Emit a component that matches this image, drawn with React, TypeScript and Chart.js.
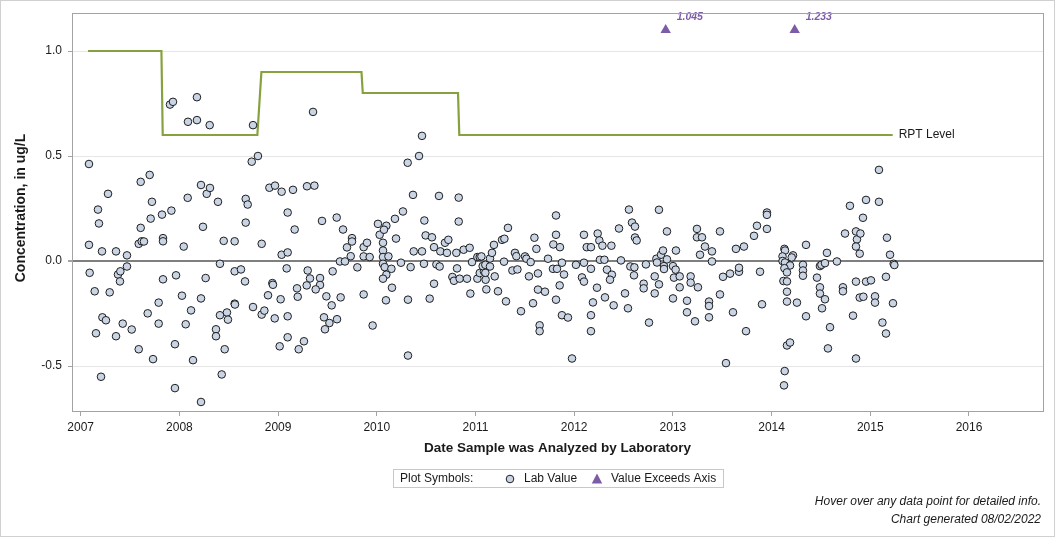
import React, { useEffect, useRef } from "react";
import { Chart, registerables } from "chart.js";

Chart.register(...registerables);

const xTickYears = [2007, 2008, 2009, 2010, 2011, 2012, 2013, 2014, 2015, 2016];
const yTickValues = [-0.5, 0, 0.5, 1.0];

const labDates = [
  2007.084, 2007.084, 2007.091, 2007.142, 2007.155, 2007.175, 2007.185, 2007.206, 2007.216, 2007.22,
  2007.256, 2007.277, 2007.294, 2007.358, 2007.358, 2007.378, 2007.402, 2007.398, 2007.426, 2007.469,
  2007.469, 2007.517, 2007.588, 2007.608, 2007.608, 2007.588, 2007.618, 2007.641, 2007.699, 2007.722,
  2007.709, 2007.679, 2007.733, 2007.79, 2007.79, 2007.824, 2007.834, 2007.834, 2007.834, 2007.905,
  2007.935, 2007.919, 2007.955, 2007.955, 2007.966, 2008.026, 2008.044, 2008.064, 2008.084, 2008.087,
  2008.118, 2008.138, 2008.178, 2008.178, 2008.219, 2008.239, 2008.277, 2008.31, 2008.219, 2008.266,
  2008.219, 2008.307, 2008.391, 2008.411, 2008.449, 2008.371, 2008.371, 2008.411, 2008.482, 2008.492,
  2008.459, 2008.429, 2008.56, 2008.56, 2008.624, 2008.665, 2008.56, 2008.563, 2008.672, 2008.692,
  2008.672, 2008.733, 2008.796, 2008.746, 2008.746, 2008.834, 2008.834, 2008.861, 2008.898, 2008.912,
  2008.969, 2009.036, 2009.151, 2009.097, 2009.168, 2009.036, 2009.097, 2009.087, 2008.942, 2008.948,
  2009.026, 2008.966, 2009.097, 2009.097, 2009.016, 2009.192, 2009.199, 2009.209, 2009.262, 2009.293,
  2009.368, 2009.354, 2009.445, 2009.3, 2009.323, 2009.425, 2009.425, 2009.29, 2009.381, 2009.489,
  2009.543, 2009.465, 2009.52, 2009.597, 2009.475, 2009.553, 2009.594, 2009.658, 2009.627, 2009.678,
  2009.698, 2009.736, 2009.749, 2009.749, 2009.634, 2009.803, 2009.867, 2009.901, 2009.867, 2009.928,
  2009.867, 2009.958, 2010.012, 2010.029, 2010.097, 2010.073, 2010.063, 2010.063, 2010.063, 2010.118,
  2010.063, 2010.08, 2010.148, 2010.097, 2010.063, 2010.154, 2010.093, 2010.195, 2010.184, 2010.265,
  2010.245, 2010.313, 2010.428, 2010.458, 2010.367, 2010.343, 2010.316, 2010.316, 2010.374, 2010.458,
  2010.482, 2010.478, 2010.495, 2010.559, 2010.58, 2010.644, 2010.711, 2010.604, 2010.637, 2010.58,
  2010.536, 2010.63, 2010.691, 2010.725, 2010.83, 2010.83, 2010.806, 2010.88, 2010.941, 2010.813,
  2010.766, 2010.782, 2010.84, 2010.914, 2010.948, 2010.965, 2011.019, 2011.043, 2011.06, 2011.019,
  2011.043, 2011.086, 2011.103, 2011.1, 2011.073, 2011.1, 2011.147, 2011.147, 2011.167, 2011.187,
  2011.269, 2011.293, 2011.329, 2011.195, 2011.11, 2011.228, 2011.309, 2011.289, 2011.4, 2011.414,
  2011.502, 2011.516, 2011.559, 2011.374, 2011.425, 2011.461, 2011.542, 2011.597, 2011.617, 2011.633,
  2011.633, 2011.704, 2011.583, 2011.65, 2011.65, 2011.735, 2011.785, 2011.826, 2011.876, 2011.897,
  2011.816, 2011.816, 2011.789, 2011.856, 2011.853, 2011.816, 2011.876, 2011.937, 2011.978, 2012.018,
  2012.099, 2012.127, 2012.17, 2012.099, 2012.079, 2012.099, 2012.17, 2012.231, 2012.19, 2012.17,
  2012.17, 2012.238, 2012.255, 2012.286, 2012.377, 2012.261, 2012.306, 2012.332, 2012.382, 2012.363,
  2012.312, 2012.4, 2012.454, 2012.474, 2012.515, 2012.545, 2012.555, 2012.586, 2012.616, 2012.616,
  2012.633, 2012.569, 2012.61, 2012.606, 2012.727, 2012.704, 2012.704, 2012.758, 2012.816, 2012.859,
  2012.816, 2012.859, 2012.94, 2012.833, 2012.839, 2012.88, 2012.9, 2012.91, 2012.91, 2012.94,
  2013.001, 2013.028, 2013.011, 2013.069, 2013.031, 2013.069, 2013.001, 2013.143, 2013.143, 2013.224,
  2013.18, 2013.18, 2013.254, 2013.244, 2013.244, 2013.295, 2013.325, 2013.396, 2013.275, 2013.396,
  2013.366, 2013.366, 2013.366, 2013.477, 2013.477, 2013.508, 2013.579, 2013.67, 2013.67, 2013.639,
  2013.72, 2013.609, 2013.741, 2013.538, 2013.822, 2013.852, 2013.883, 2013.903, 2013.953, 2013.953,
  2013.953, 2014.13, 2014.136, 2014.217, 2014.204, 2014.111, 2014.111, 2014.136, 2014.187, 2014.13,
  2014.156, 2014.12, 2014.156, 2014.156, 2014.156, 2014.257, 2014.156, 2014.187, 2014.133, 2014.126,
  2014.349, 2014.318, 2014.318, 2014.318, 2014.349, 2014.46, 2014.49, 2014.505, 2014.541, 2014.561,
  2014.662, 2014.49, 2014.49, 2014.541, 2014.511, 2014.592, 2014.571, 2014.723, 2014.723, 2014.744,
  2014.794, 2014.957, 2014.926, 2015.088, 2015.088, 2014.855, 2014.865, 2014.9, 2014.855, 2014.893,
  2014.855, 2014.957, 2015.007, 2014.893, 2014.93, 2015.048, 2015.048, 2014.825, 2014.855, 2015.169,
  2015.2, 2015.237, 2015.244, 2015.159, 2015.23, 2015.123, 2015.159,
];

const labValues = [
  0.462, 0.077, -0.056, -0.144, -0.344, 0.245, 0.179, -0.551, 0.046, -0.268,
  -0.282, 0.32, -0.149, 0.046, -0.358, -0.064, -0.049, -0.097, -0.298, 0.027,
  -0.026, -0.326, -0.42, 0.377, 0.158, 0.082, 0.094, 0.093, 0.41, 0.282,
  0.202, -0.249, -0.467, -0.198, -0.298, 0.221, 0.109, 0.094, -0.087, 0.745,
  0.758, 0.24, -0.396, -0.605, -0.068, -0.165, 0.069, -0.301, 0.301, 0.663,
  -0.235, -0.472, 0.671, 0.78, 0.362, 0.163, 0.32, 0.348, -0.178, -0.081,
  -0.671, 0.647, 0.282, -0.013, 0.096, -0.325, -0.358, -0.258, -0.245, -0.279,
  -0.42, -0.54, 0.094, -0.049, -0.04, -0.097, -0.203, -0.207, 0.296, 0.269,
  0.183, 0.473, 0.5, 0.647, -0.219, 0.082, -0.255, -0.236, -0.163, 0.349,
  0.359, 0.33, 0.339, 0.231, 0.15, 0.03, 0.041, -0.035, -0.105, -0.113,
  -0.182, -0.273, -0.263, -0.363, -0.406, -0.13, -0.17, -0.42, -0.382, 0.356,
  0.359, 0.71, 0.191, -0.045, -0.083, -0.081, -0.114, -0.116, -0.135, -0.168,
  -0.211, -0.268, -0.295, -0.277, -0.325, -0.049, 0.207, 0.15, -0.002, -0.002,
  0.065, 0.023, 0.109, 0.093, -0.173, -0.03, 0.066, 0.087, 0.022, 0.019,
  -0.159, -0.307, 0.177, 0.125, 0.168, 0.149, 0.087, 0.05, 0.019, 0.022,
  -0.013, -0.029, -0.037, -0.065, -0.084, -0.127, -0.187, 0.107, 0.201, 0.236,
  -0.008, 0.468, 0.5, 0.596, 0.315, -0.029, -0.184, -0.45, 0.046, 0.046,
  0.193, -0.013, 0.122, 0.113, 0.066, 0.046, 0.039, -0.016, -0.026, -0.108,
  -0.179, 0.31, 0.087, 0.101, 0.302, 0.188, 0.039, 0.054, 0.063, -0.035,
  -0.076, -0.094, -0.084, -0.084, -0.155, -0.005, 0.019, 0.019, 0.022, -0.084,
  -0.057, -0.049, -0.089, -0.056, -0.024, -0.018, -0.026, 0.012, 0.039, 0.077,
  0.101, 0.106, 0.158, -0.073, -0.135, -0.144, -0.192, -0.003, 0.039, 0.023,
  0.022, 0.011, -0.005, -0.045, -0.04, -0.239, -0.073, 0.111, 0.058, -0.059,
  -0.136, -0.146, -0.201, -0.306, -0.334, 0.011, -0.037, -0.037, -0.008, -0.064,
  0.217, 0.125, 0.079, 0.066, -0.116, -0.184, -0.258, -0.269, -0.464, -0.018,
  0.125, 0.066, 0.066, -0.008, -0.078, -0.098, -0.037, -0.127, -0.197, -0.258,
  -0.334, 0.131, 0.098, 0.073, 0.073, 0.006, 0.006, -0.041, -0.065, -0.089,
  -0.173, -0.211, 0.155, 0.003, -0.154, -0.225, 0.245, 0.183, 0.164, 0.112,
  0.098, -0.026, -0.03, -0.068, -0.016, -0.108, -0.13, -0.293, -0.073, -0.111,
  -0.154, 0.244, 0.141, 0.011, -0.007, 0.03, 0.05, -0.024, -0.038, 0.008,
  -0.024, -0.041, -0.079, -0.073, 0.05, -0.125, -0.178, -0.189, -0.244, -0.287,
  -0.073, -0.103, -0.125, 0.153, 0.113, 0.113, 0.069, 0.046, 0.03, -0.002,
  -0.193, -0.214, -0.268, 0.141, -0.159, -0.075, -0.06, -0.051, -0.032, 0.058,
  0.069, -0.244, -0.334, -0.486, 0.12, 0.168, -0.051, -0.206, 0.231, 0.22,
  0.153, 0.058, 0.05, 0.027, 0.017, 0.022, 0.0, -0.007, -0.021, -0.034,
  -0.054, -0.095, -0.097, -0.146, -0.193, -0.198, -0.402, -0.388, -0.524, -0.592,
  0.077, -0.018, -0.045, -0.07, -0.263, -0.079, -0.024, -0.018, -0.01, 0.039,
  -0.002, -0.125, -0.155, -0.182, -0.225, -0.315, -0.416, -0.125, -0.144, 0.131,
  0.263, 0.291, 0.206, 0.282, 0.434, 0.141, 0.103, 0.131, 0.069, 0.035,
  -0.098, -0.098, -0.092, -0.174, -0.17, -0.168, -0.198, -0.26, -0.464, 0.111,
  0.03, -0.013, -0.019, -0.075, -0.201, -0.293, -0.345,
];

const exceedDates = [2012.927, 2014.234];
const exceedValues = [1.045, 1.233];
const exceedAxisCap = 1.1;

const rptDates = [2007.074, 2007.818, 2007.831, 2008.79, 2008.831, 2009.845, 2009.858, 2010.823, 2010.836, 2015.227];
const rptValues = [1.0, 1.0, 0.6, 0.6, 0.9, 0.9, 0.8, 0.8, 0.6, 0.6];
const rptLabel = "RPT Level";

const xTitle = "Date Sample was Analyzed by Laboratory";
const yTitle = "Concentration, in ug/L";
const legendTitle = "Plot Symbols:";
const legendLab = "Lab Value";
const legendExceed = "Value Exceeds Axis";
const footnotes = ["Hover over any data point for detailed info.", "Chart generated 08/02/2022"];

const FONT = '"Liberation Sans", Arial, sans-serif';
const POINT_FILL = "#c9d4e5";
const POINT_EDGE = "#1e1e1e";
const PURPLE = "#7b5ca6";
const GREEN = "#86a23f";
const FRAME = "#a3a3a3";
const TEXT = "#1a1a1a";

function drawTriangle(ctx: CanvasRenderingContext2D, x: number, y: number, r: number) {
  ctx.beginPath();
  ctx.moveTo(x, y - r);
  ctx.lineTo(x + r * 0.95, y + r * 0.8);
  ctx.lineTo(x - r * 0.95, y + r * 0.8);
  ctx.closePath();
  ctx.fill();
}

const extrasPlugin = {
  id: "extras",
  beforeDraw(chart: any) {
    const ctx = chart.ctx;
    ctx.save();
    ctx.fillStyle = "#ffffff";
    ctx.fillRect(0, 0, chart.width, chart.height);
    ctx.restore();
  },
  afterDatasetsDraw(chart: any) {
    const ctx = chart.ctx;
    const xs = chart.scales.x;
    const ys = chart.scales.y;
    ctx.save();
    ctx.fillStyle = PURPLE;
    ctx.font = `italic bold 10.5px ${FONT}`;
    ctx.textAlign = "left";
    ctx.textBaseline = "middle";
    exceedDates.forEach((d, i) => {
      const px = xs.getPixelForValue(d);
      const py = ys.getPixelForValue(exceedAxisCap);
      ctx.fillText(exceedValues[i].toFixed(3), px + 11, py - 13);
    });
    ctx.fillStyle = TEXT;
    ctx.font = `12px ${FONT}`;
    const lx = xs.getPixelForValue(rptDates[rptDates.length - 1]);
    const ly = ys.getPixelForValue(rptValues[rptValues.length - 1]);
    ctx.fillText(rptLabel, lx + 6, ly);
    ctx.restore();
  },
  afterDraw(chart: any) {
    const ctx = chart.ctx;
    const a = chart.chartArea;
    ctx.save();
    ctx.strokeStyle = FRAME;
    ctx.lineWidth = 1;
    ctx.strokeRect(Math.round(a.left) + 0.5, Math.round(a.top) + 0.5, Math.round(a.right - a.left), Math.round(a.bottom - a.top));
    ctx.fillStyle = TEXT;
    ctx.textAlign = "center";
    ctx.textBaseline = "middle";
    ctx.font = `bold 13.5px ${FONT}`;
    ctx.fillText(xTitle, (a.left + a.right) / 2, 448);
    ctx.save();
    ctx.font = `bold 14px ${FONT}`;
    ctx.translate(21, 208);
    ctx.rotate(-Math.PI / 2);
    ctx.fillText(yTitle, 0, 0);
    ctx.restore();
    ctx.strokeStyle = "#c8c8c8";
    ctx.strokeRect(393.5, 469.5, 330, 18);
    ctx.font = `12px ${FONT}`;
    ctx.textAlign = "left";
    ctx.fillStyle = TEXT;
    ctx.fillText(legendTitle, 400, 479);
    ctx.beginPath();
    ctx.arc(510, 479, 3.8, 0, Math.PI * 2);
    ctx.fillStyle = POINT_FILL;
    ctx.fill();
    ctx.strokeStyle = POINT_EDGE;
    ctx.stroke();
    ctx.fillStyle = TEXT;
    ctx.fillText(legendLab, 524, 479);
    ctx.fillStyle = PURPLE;
    drawTriangle(ctx, 597, 479, 5.5);
    ctx.fillStyle = TEXT;
    ctx.fillText(legendExceed, 611, 479);
    ctx.font = `italic 12px ${FONT}`;
    ctx.textAlign = "right";
    ctx.fillText(footnotes[0], 1041, 502);
    ctx.fillText(footnotes[1], 1041, 520);
    ctx.strokeStyle = "#d0d0d0";
    ctx.strokeRect(0.5, 0.5, 1054, 536);
    ctx.restore();
  },
};

export default function App() {
  const ref = useRef<HTMLCanvasElement | null>(null);

  useEffect(() => {
    if (!ref.current) return;
    const labPoints = labDates.map((d, i) => ({ x: d, y: labValues[i] }));
    const rptPoints = rptDates.map((d, i) => ({ x: d, y: rptValues[i] }));
    const exceedPoints = exceedDates.map((d) => ({ x: d, y: exceedAxisCap }));

    const chart = new Chart(ref.current, {
      type: "scatter",
      data: {
        datasets: [
          {
            label: legendLab,
            data: labPoints,
            pointStyle: "circle",
            pointRadius: 3.8,
            pointBackgroundColor: POINT_FILL,
            pointBorderColor: POINT_EDGE,
            pointBorderWidth: 1,
            showLine: false,
            order: 1,
          },
          {
            label: rptLabel,
            data: rptPoints,
            showLine: true,
            borderColor: GREEN,
            borderWidth: 2.2,
            pointRadius: 0,
            tension: 0,
            order: 2,
          },
          {
            label: legendExceed,
            data: exceedPoints,
            pointStyle: "triangle",
            pointRadius: 6,
            pointBackgroundColor: PURPLE,
            pointBorderColor: PURPLE,
            pointBorderWidth: 0,
            showLine: false,
            order: 0,
          },
        ],
      },
      options: {
        animation: false,
        responsive: false,
        devicePixelRatio: 1,
        layout: { padding: { left: 0, top: 12, right: 13, bottom: 0 } },
        plugins: {
          legend: { display: false },
          tooltip: { enabled: true },
        },
        scales: {
          x: {
            type: "linear",
            min: 2006.912,
            max: 2016.75,
            afterBuildTicks: (s: any) => {
              s.ticks = xTickYears.map((v) => ({ value: v }));
            },
            afterFit: (s: any) => {
              s.height = 127;
            },
            border: { display: false },
            grid: {
              drawOnChartArea: false,
              drawTicks: true,
              tickLength: 5,
              tickColor: FRAME,
            },
            ticks: {
              padding: 4,
              color: TEXT,
              font: { family: FONT, size: 12 },
              maxRotation: 0,
              callback: (v: any) => String(v),
            },
          },
          y: {
            type: "linear",
            min: -0.714,
            max: 1.18,
            afterBuildTicks: (s: any) => {
              s.ticks = yTickValues.map((v) => ({ value: v }));
            },
            afterFit: (s: any) => {
              s.width = 72;
            },
            border: { display: false },
            grid: {
              drawOnChartArea: true,
              drawTicks: true,
              tickLength: 4,
              tickColor: FRAME,
              color: (c: any) => (c.tick && c.tick.value === 0 ? "#7f7f7f" : "#e6e6e6"),
              lineWidth: (c: any) => (c.tick && c.tick.value === 0 ? 2 : 1),
            },
            ticks: {
              padding: 6,
              color: TEXT,
              font: { family: FONT, size: 12 },
              callback: (v: any) => Number(v).toFixed(1),
            },
          },
        },
      },
      plugins: [extrasPlugin],
    });
    return () => chart.destroy();
  }, []);

  return (
    <div style={{ position: "fixed", left: 0, top: 0, width: 1056, height: 538 }}>
      <canvas ref={ref} width={1056} height={538} style={{ display: "block" }} />
    </div>
  );
}
